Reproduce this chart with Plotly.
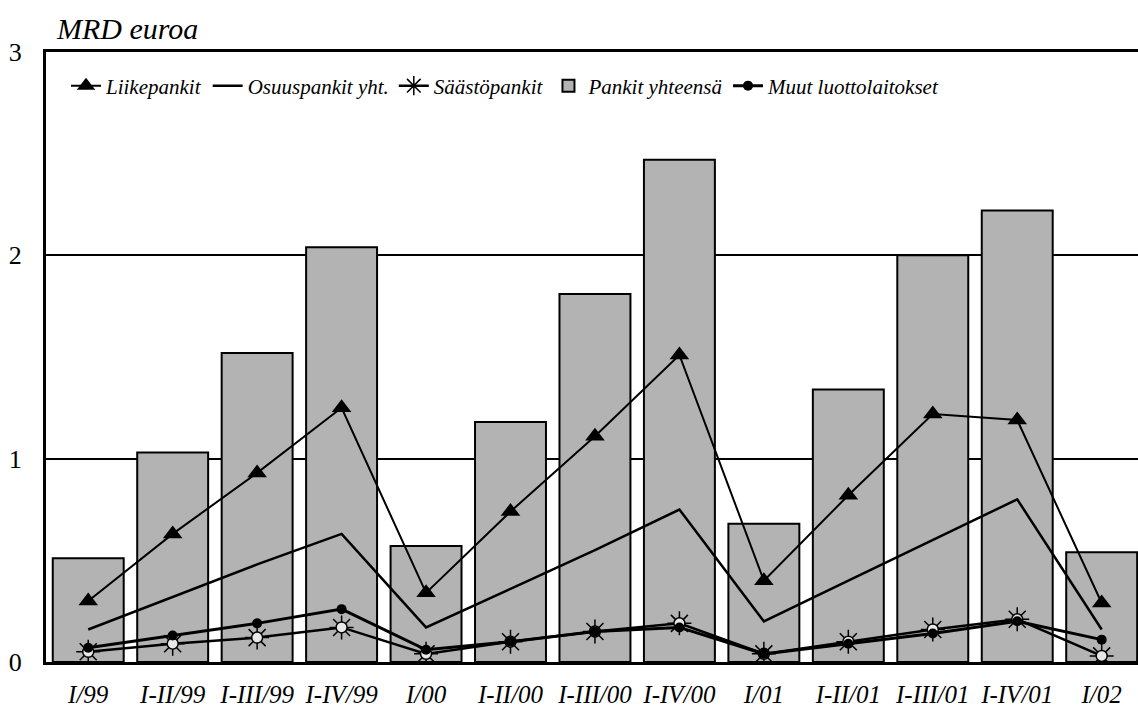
import plotly.graph_objects as go

categories = ["I/99", "I-II/99", "I-III/99", "I-IV/99", "I/00", "I-II/00", "I-III/00",
              "I-IV/00", "I/01", "I-II/01", "I-III/01", "I-IV/01", "I/02"]
pankit_yhteensa = [0.51, 1.03, 1.52, 2.04, 0.57, 1.18, 1.81, 2.47, 0.68, 1.34, 2.00, 2.22, 0.54]
liikepankit = [0.30, 0.63, 0.93, 1.25, 0.34, 0.74, 1.11, 1.51, 0.40, 0.82, 1.22, 1.19, 0.29]
osuuspankit = [0.16, 0.32, 0.48, 0.63, 0.17, 0.36, 0.55, 0.75, 0.20, 0.40, 0.60, 0.80, 0.16]
saastopankit = [0.05, 0.09, 0.12, 0.17, 0.04, 0.10, 0.15, 0.19, 0.04, 0.10, 0.16, 0.21, 0.03]
muut = [0.07, 0.13, 0.19, 0.26, 0.06, 0.10, 0.15, 0.17, 0.04, 0.09, 0.14, 0.20, 0.11]
y_ticks = [0, 1, 2, 3]

xs = list(range(len(categories)))
SERIF = "Liberation Serif"

fig = go.Figure()
fig.add_trace(go.Bar(
    x=xs, y=pankit_yhteensa, name="Pankit yhteensä", width=0.84,
    marker=dict(color="#b3b3b3", line=dict(color="black", width=2)),
    legendrank=4,
))
fig.add_trace(go.Scatter(
    x=xs, y=osuuspankit, name="Osuuspankit yht.", mode="lines",
    line=dict(color="black", width=2.5), legendrank=2,
))
fig.add_trace(go.Scatter(
    x=xs, y=saastopankit, name="Säästöpankit", mode="lines+markers",
    line=dict(color="black", width=2.5),
    marker=dict(symbol="asterisk-open", size=20, color="black",
                line=dict(color="black", width=1.5)),
    legendrank=3,
))
fig.add_trace(go.Scatter(
    x=xs, y=saastopankit, mode="markers", showlegend=False, hoverinfo="skip",
    marker=dict(symbol="circle", size=11, color="#e8e8e8",
                line=dict(color="black", width=1.5)),
))
fig.add_trace(go.Scatter(
    x=xs, y=muut, name="Muut luottolaitokset", mode="lines+markers",
    line=dict(color="black", width=3),
    marker=dict(symbol="circle", size=10, color="black"),
    legendrank=5,
))
fig.add_trace(go.Scatter(
    x=xs, y=liikepankit, name="Liikepankit", mode="lines+markers",
    line=dict(color="black", width=2),
    marker=dict(symbol="triangle-up", size=17, color="black"),
    legendrank=1,
))

W, H = 1138, 710
L, R, T, B = 46, 0, 52, 48
pw, ph = W - L - R, H - T - B

fig.update_layout(
    width=W, height=H,
    margin=dict(l=L, r=R, t=T, b=B, autoexpand=False),
    paper_bgcolor="white", plot_bgcolor="white",
    font=dict(family=SERIF, color="black"),
    showlegend=True,
    legend=dict(
        orientation="h", x=(66 - L) / pw, y=1 - (86 - T) / ph,
        xanchor="left", yanchor="middle",
        font=dict(family=SERIF, size=21, style="italic", color="black"),
        bgcolor="rgba(0,0,0,0)", itemwidth=30, tracegroupgap=0,
        traceorder="normal",
    ),
    xaxis=dict(
        range=[-0.5, 12.43], tickmode="array", tickvals=xs, ticktext=categories,
        showgrid=False, zeroline=False, automargin=False,
        showline=True, linecolor="black", linewidth=3, mirror=True,
        ticks="", tickfont=dict(family=SERIF, size=25, style="italic"),
        ticklabelstandoff=8,
    ),
    yaxis=dict(
        range=[0, 3], tickmode="array", tickvals=y_ticks,
        ticktext=[str(v) for v in y_ticks], automargin=False,
        showgrid=True, gridcolor="black", gridwidth=2,
        zeroline=False, showline=True, linecolor="black", linewidth=3,
        ticks="", tickfont=dict(family=SERIF, size=26), ticklabelstandoff=16,
    ),
    annotations=[dict(
        text="MRD euroa", xref="paper", yref="paper",
        x=(54 - L) / pw, y=1 + (52 - 28) / ph, xanchor="left", yanchor="middle",
        showarrow=False, font=dict(family=SERIF, size=30, style="italic", color="black"),
    )],
)

fig.write_html("out.html", config={"displayModeBar": False},
               post_script="document.body.style.margin='0';")
